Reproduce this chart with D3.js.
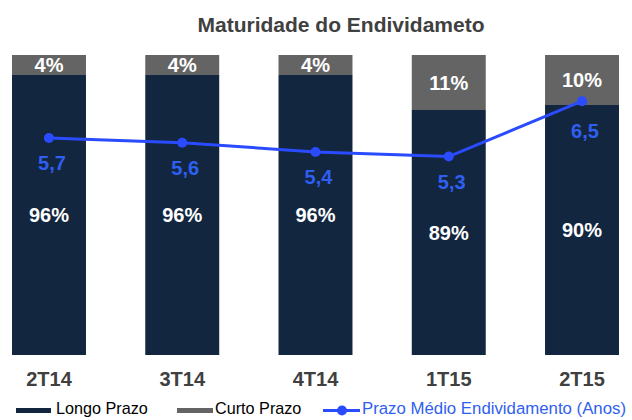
<!DOCTYPE html>
<html>
<head>
<meta charset="utf-8">
<script src="https://cdn.jsdelivr.net/npm/d3@7"></script>
<style>
  html, body { margin: 0; padding: 0; background: #fff; }
  svg { display: block; font-family: "Liberation Sans", Arial, sans-serif; }
</style>
</head>
<body>
<svg id="chart" width="632" height="420"></svg>
<script>
const categories = ["2T14", "3T14", "4T14", "1T15", "2T15"];
const longoPrazo = [96, 96, 96, 89, 90];
const curtoPrazo = [4, 4, 4, 11, 10];
const prazoMedio = [5.7, 5.6, 5.4, 5.3, 6.5];
const seriesNames = ["Longo Prazo", "Curto Prazo", "Prazo Médio Endividamento (Anos)"];
const titleText = "Maturidade do Endividameto";

const COLORS = { longo: "#12263f", curto: "#646464", line: "#2a4bff", lineLabel: "#2f5ff0", axis: "#404040" };

const svg = d3.select("#chart");
const plotTop = 55, plotBottom = 355;

const x = d3.scaleBand().domain(categories).range([12, 619]).paddingInner(0.445).paddingOuter(0);
const y = d3.scaleLinear().domain([40, 100]).range([plotBottom, plotTop]);
const y2 = d3.scaleLinear().domain([1, 7.5]).range([plotBottom, plotTop]);

const ptBR = d3.formatLocale({ decimal: ",", thousands: ".", grouping: [3], currency: ["R$", ""] });
const fmt1 = ptBR.format(".1f");

const data = categories.map((c, i) => ({ c, i, longo: longoPrazo[i], curto: curtoPrazo[i], prazo: prazoMedio[i] }));

// Title
svg.append("text")
  .attr("x", 341).attr("y", 32)
  .attr("text-anchor", "middle")
  .attr("font-size", 21).attr("font-weight", "bold")
  .attr("fill", COLORS.axis)
  .text(titleText);

// Bars
const g = svg.append("g");
g.selectAll("rect.longo").data(data).enter().append("rect")
  .attr("class", "longo")
  .attr("x", d => x(d.c)).attr("width", x.bandwidth())
  .attr("y", d => y(d.longo)).attr("height", d => y(40) - y(d.longo))
  .attr("fill", COLORS.longo);
g.selectAll("rect.curto").data(data).enter().append("rect")
  .attr("class", "curto")
  .attr("x", d => x(d.c)).attr("width", x.bandwidth())
  .attr("y", d => y(d.longo + d.curto)).attr("height", d => y(d.longo) - y(d.longo + d.curto))
  .attr("fill", COLORS.curto);

// Bar labels
g.selectAll("text.longoLbl").data(data).enter().append("text")
  .attr("x", d => x(d.c) + x.bandwidth() / 2)
  .attr("y", d => (y(40) + y(d.longo)) / 2)
  .attr("dy", "0.35em")
  .attr("text-anchor", "middle")
  .attr("font-size", 20).attr("font-weight", "bold").attr("fill", "#fff")
  .text(d => d.longo + "%");
g.selectAll("text.curtoLbl").data(data).enter().append("text")
  .attr("x", d => x(d.c) + x.bandwidth() / 2)
  .attr("y", d => (y(d.longo) + y(d.longo + d.curto)) / 2)
  .attr("dy", "0.35em")
  .attr("text-anchor", "middle")
  .attr("font-size", 20).attr("font-weight", "bold").attr("fill", "#fff")
  .text(d => d.curto + "%");

// Line
const line = d3.line().x(d => x(d.c) + x.bandwidth() / 2).y(d => y2(d.prazo));
g.append("path").datum(data)
  .attr("d", line).attr("fill", "none")
  .attr("stroke", COLORS.line).attr("stroke-width", 3);
g.selectAll("circle.pt").data(data).enter().append("circle")
  .attr("cx", d => x(d.c) + x.bandwidth() / 2)
  .attr("cy", d => y2(d.prazo))
  .attr("r", 5).attr("fill", COLORS.line);
g.selectAll("text.ptLbl").data(data).enter().append("text")
  .attr("x", d => x(d.c) + x.bandwidth() / 2 + 3)
  .attr("y", d => y2(d.prazo) + (d.i === data.length - 1 ? 30 : 25))
  .attr("dy", "0.35em")
  .attr("text-anchor", "middle")
  .attr("font-size", 20).attr("font-weight", "bold").attr("fill", COLORS.lineLabel)
  .text(d => fmt1(d.prazo));

// X axis labels
const xAxis = d3.axisBottom(x).tickSize(0).tickPadding(0);
const ax = svg.append("g").attr("transform", `translate(0,${plotBottom})`).call(xAxis);
ax.select(".domain").remove();
ax.selectAll("text")
  .attr("y", 31).attr("dy", 0)
  .attr("font-size", 20).attr("font-weight", "bold")
  .attr("font-family", "Liberation Sans, Arial, sans-serif")
  .attr("fill", COLORS.axis);

// Legend
const lg = svg.append("g");
lg.append("rect").attr("x", 16).attr("y", 408).attr("width", 35).attr("height", 5).attr("fill", COLORS.longo);
lg.append("text").attr("x", 56).attr("y", 414).attr("font-size", 16.2).attr("fill", "#000").text(seriesNames[0]);
lg.append("rect").attr("x", 177).attr("y", 408).attr("width", 36).attr("height", 5).attr("fill", COLORS.curto);
lg.append("text").attr("x", 215).attr("y", 414).attr("font-size", 16.2).attr("fill", "#000").text(seriesNames[1]);
lg.append("line").attr("x1", 323).attr("x2", 360).attr("y1", 410.5).attr("y2", 410.5)
  .attr("stroke", COLORS.line).attr("stroke-width", 3);
lg.append("circle").attr("cx", 342).attr("cy", 410.5).attr("r", 5).attr("fill", COLORS.line);
lg.append("text").attr("x", 362).attr("y", 414).attr("font-size", 16.8).attr("fill", COLORS.lineLabel).text(seriesNames[2]);
</script>
</body>
</html>
